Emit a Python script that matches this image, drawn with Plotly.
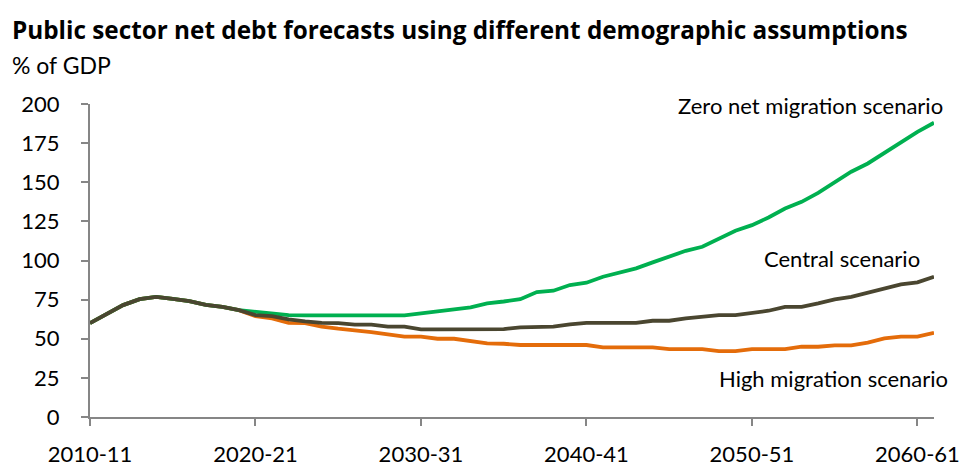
import plotly.graph_objects as go

years = list(range(2010, 2062))
common = [60, 66, 71.5, 75.3, 76.8, 75.5, 74, 71.7, 70.4, 68.3]
zero_net = common + [67.3, 66.2, 65.1, 65, 65, 65, 65, 65, 65, 65,
                     66.2, 67.7, 68.8, 70, 72.6, 73.8, 75.3, 79.8, 80.7, 84.3,
                     85.8, 89.6, 92.1, 95, 98.8, 102.4, 106.2, 108.8, 114.1, 119,
                     122.6, 127.5, 133.2, 137.5, 143.2, 150.3, 156.7, 162, 168.8, 175.8,
                     182.2, 188]
central = common + [65.1, 64.5, 62.4, 61.1, 60.2, 60, 59, 59, 57.7, 57.7,
                    56, 56, 56, 56, 56, 56.2, 57.3, 57.7, 57.7, 59.2,
                    60.2, 60.2, 60.2, 60.2, 61.5, 61.5, 63, 64, 65.1, 65.1,
                    66.2, 67.9, 70.4, 70.4, 72.6, 75.2, 76.8, 79.4, 82.2, 84.7,
                    86, 89.6]
high = common + [64.5, 63, 60.2, 60, 57.7, 56.4, 55.6, 54.3, 52.8, 51.3,
                 51.3, 50, 50, 48.3, 47, 46.8, 46, 46, 46, 46,
                 46, 44.5, 44.5, 44.5, 44.5, 43.4, 43.4, 43.4, 42.1, 42.1,
                 43.4, 43.4, 43.4, 44.9, 44.9, 45.8, 45.8, 47.5, 50.2, 51.3,
                 51.3, 53.8]

tick_years = [2010, 2020, 2030, 2040, 2050, 2060]
tick_labels = ["2010-11", "2020-21", "2030-31", "2040-41", "2050-51", "2060-61"]
y_ticks = [0, 25, 50, 75, 100, 125, 150, 175, 200]

title_text = "Public sector net debt forecasts using different demographic assumptions"
unit_text = "% of GDP"
series_names = ["Zero net migration scenario", "Central scenario", "High migration scenario"]

FONT = "Lato"
GREEN = "#00B050"
CENTRAL = "#4A4630"
ORANGE = "#E46C0A"
AXIS = "#868686"

L, R, T, B = 90, 934, 104, 417
PW, PH = R - L, B - T

fig = go.Figure()
for vals, col, name in [(high, ORANGE, series_names[2]),
                        (zero_net, GREEN, series_names[0]),
                        (central, CENTRAL, series_names[1])]:
    fig.add_trace(go.Scatter(x=years, y=vals, mode="lines", name=name,
                             line=dict(color=col, width=3.8), showlegend=False))

fig.update_layout(
    width=961, height=466,
    margin=dict(l=L, r=961 - R, t=T, b=466 - B),
    paper_bgcolor="white", plot_bgcolor="white",
    font=dict(family=FONT, size=22, color="black"),
)
fig.update_xaxes(range=[2010, 2061], tickvals=tick_years, ticktext=tick_labels,
                 showgrid=False, zeroline=False, showline=True, linecolor=AXIS, linewidth=2,
                 ticks="outside", ticklen=7, tickcolor=AXIS, tickwidth=2, automargin=False,
                 tickfont=dict(family=FONT, size=22, color="black"), ticklabelstandoff=10)
fig.update_yaxes(range=[0, 200], tickvals=y_ticks,
                 showgrid=False, zeroline=False, showline=True, linecolor=AXIS, linewidth=2,
                 ticks="outside", ticklen=7, tickcolor=AXIS, tickwidth=2, automargin=False,
                 tickfont=dict(family=FONT, size=22, color="black"), ticklabelstandoff=17)

def px_x(px):
    return (px - L) / PW

def px_y(py):
    return (B - py) / PH

fig.add_annotation(xref="paper", yref="paper", x=px_x(10), y=px_y(29),
                   text="<b>" + title_text + "</b>", showarrow=False,
                   xanchor="left", yanchor="middle", font=dict(family="Open Sans", size=24.3))
fig.add_annotation(xref="paper", yref="paper", x=px_x(10), y=px_y(65),
                   text=unit_text, showarrow=False,
                   xanchor="left", yanchor="middle", font=dict(family=FONT, size=23))

for name, px, py in [(series_names[0], 945, 105), (series_names[1], 922, 258), (series_names[2], 950, 378)]:
    fig.add_annotation(xref="paper", yref="paper", x=px_x(px), y=px_y(py),
                       text=name, showarrow=False, xanchor="right", yanchor="middle",
                       font=dict(family=FONT, size=22))

fig.write_html("out.html", config={"displayModeBar": False},
               post_script="document.body.style.margin='0';document.body.style.overflow='hidden';")
